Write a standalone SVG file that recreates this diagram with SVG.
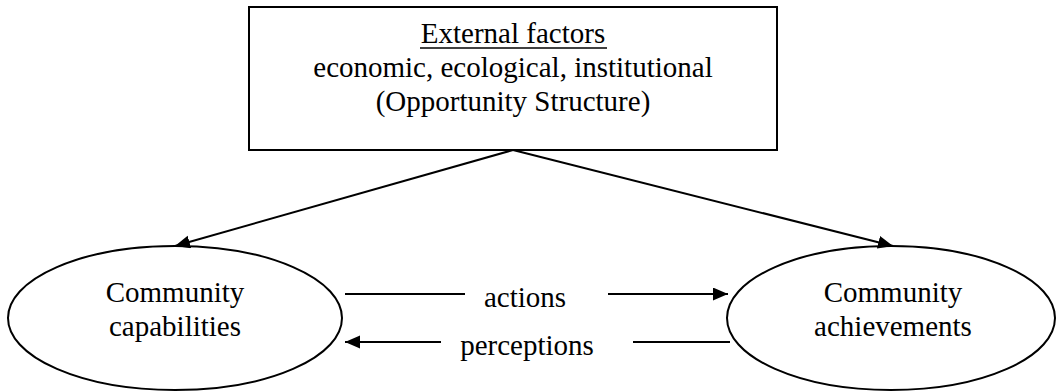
<svg xmlns="http://www.w3.org/2000/svg" width="1057" height="391" viewBox="0 0 1057 391">
<style>
text{font-family:"Liberation Serif","Times New Roman",serif;font-size:29px;fill:#000;text-anchor:middle}
.shape{fill:#fff;stroke:#000;stroke-width:2}
.conn{stroke:#000;stroke-width:2;fill:none}
</style>
<defs>
<marker id="ah" markerUnits="userSpaceOnUse" markerWidth="16" markerHeight="14" refX="15" refY="6.5" orient="auto">
<path d="M0,0 L15,6.5 L0,13 z" fill="#000"/>
</marker>
</defs>
<rect width="1057" height="391" fill="#fff"/>
<g id="external">
<rect class="shape" x="249" y="7" width="528" height="143"/>
<text x="513" y="43">External factors</text>
<line x1="420" y1="48" x2="607" y2="48" stroke="#000" stroke-width="1.5"/>
<text x="513" y="77">economic, ecological, institutional</text>
<text x="513" y="111">(Opportunity Structure)</text>
</g>
<g id="capabilities">
<ellipse class="shape" cx="175" cy="318" rx="167" ry="72"/>
<text x="175" y="302">Community</text>
<text x="175" y="336">capabilities</text>
</g>
<g id="achievements">
<ellipse class="shape" cx="891" cy="318" rx="164" ry="72"/>
<text x="893" y="302">Community</text>
<text x="893" y="336">achievements</text>
</g>
<g id="connectors">
<line class="conn" x1="513" y1="150" x2="175" y2="246" marker-end="url(#ah)"/>
<line class="conn" x1="513" y1="150" x2="893" y2="246" marker-end="url(#ah)"/>
<line class="conn" x1="345" y1="294" x2="465" y2="294"/>
<line class="conn" x1="608" y1="294" x2="728" y2="294" marker-end="url(#ah)"/>
<line class="conn" x1="441" y1="342" x2="345" y2="342" marker-end="url(#ah)"/>
<line class="conn" x1="633" y1="342" x2="730" y2="342"/>
<text x="525" y="307">actions</text>
<text x="527" y="355">perceptions</text>
</g>
</svg>
